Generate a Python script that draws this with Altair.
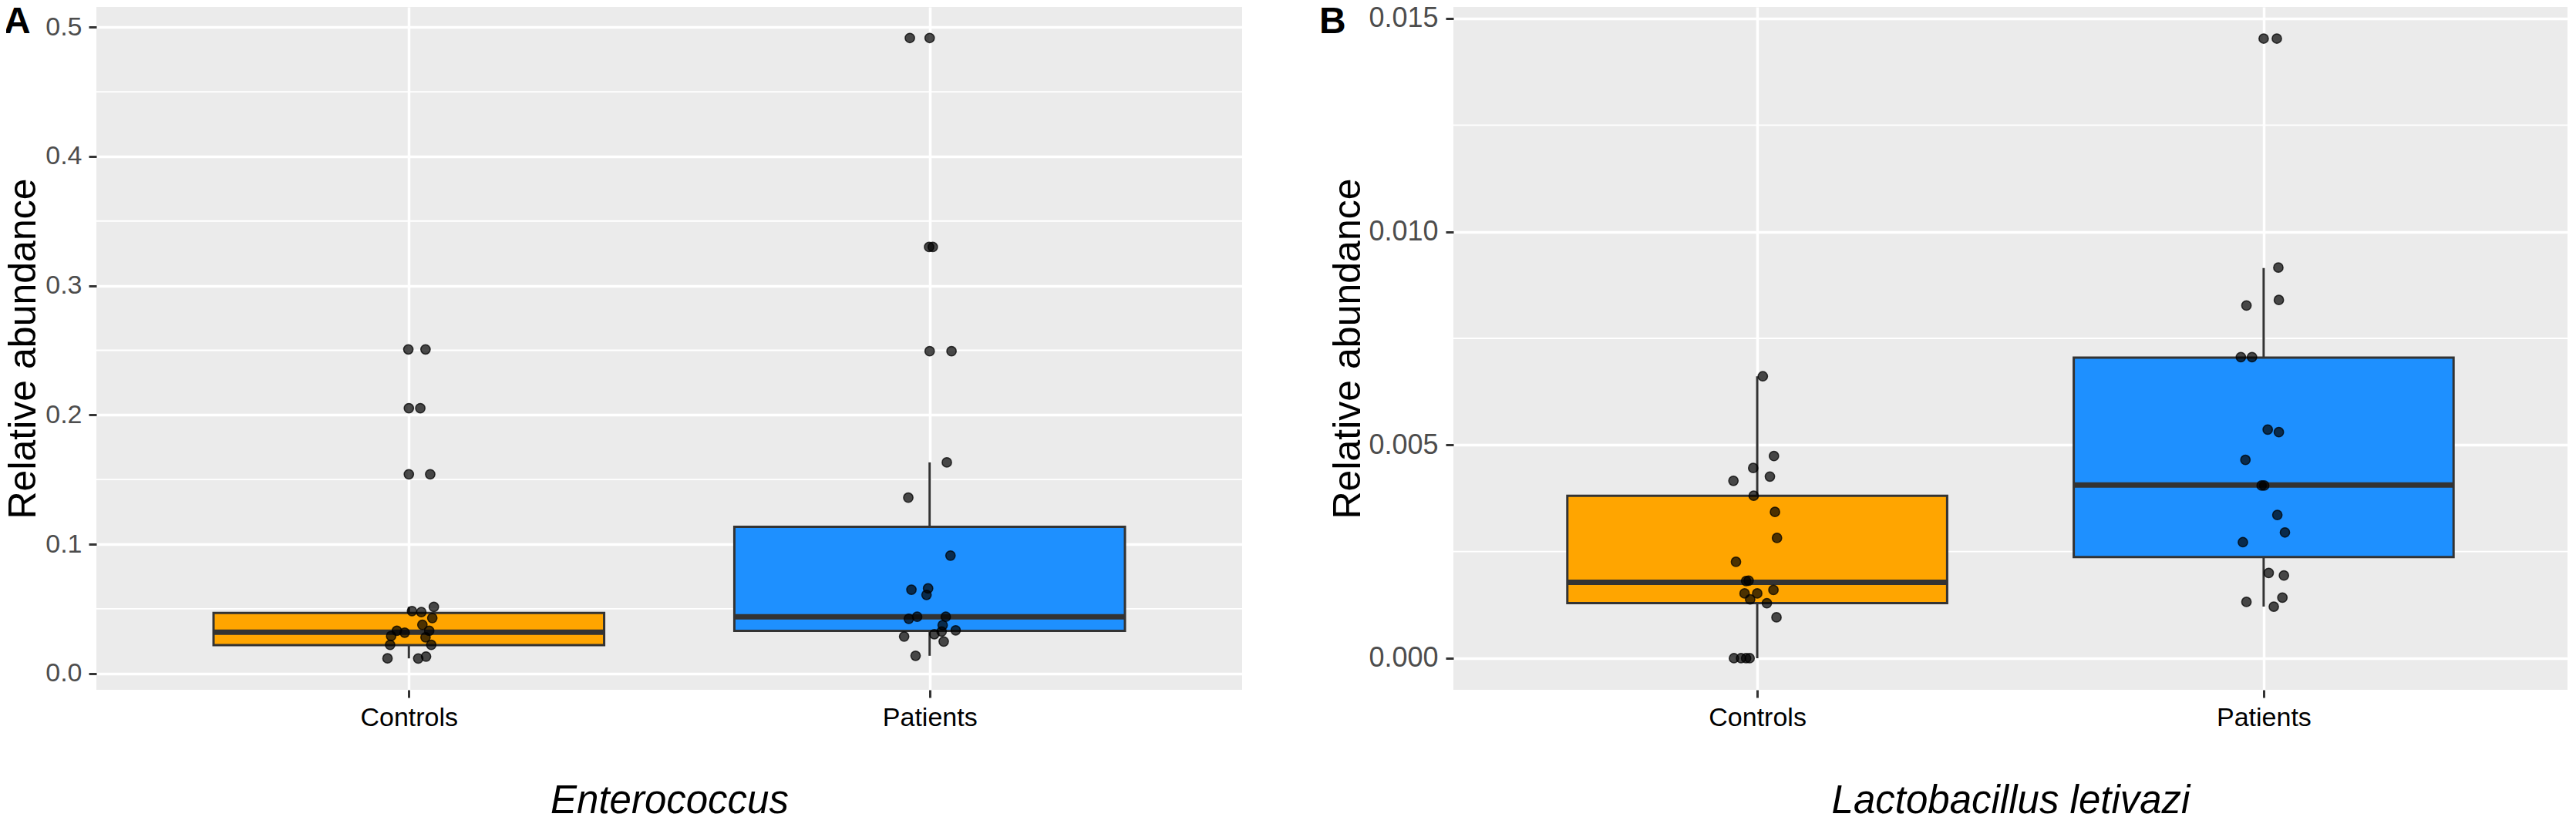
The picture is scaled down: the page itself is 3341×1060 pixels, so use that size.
import altair as alt
import pandas as pd

groups = ["Controls", "Patients"]
box_colors = ["#FFA500", "#1E90FF"]
y_title = "Relative abundance"

# ---------------- Panel A : Enterococcus ----------------
a_title = "Enterococcus"
a_ctrl_values = [0.2507, 0.2507, 0.2052, 0.2052, 0.1541, 0.1541, 0.0483, 0.0475,
                 0.0515, 0.0429, 0.0376, 0.0330, 0.0280, 0.0221, 0.0330, 0.0316,
                 0.0290, 0.0221, 0.0117, 0.0116, 0.0131]
a_ctrl_jitter = [-0.001, 0.032, 0.000, 0.022, 0.000, 0.041, 0.006, 0.024,
                 0.048, 0.045, 0.026, 0.039, 0.032, 0.043, -0.023, -0.008,
                 -0.034, -0.036, -0.041, 0.018, 0.033]
a_pat_values = [0.4916, 0.4916, 0.3299, 0.3299, 0.2493, 0.2493, 0.1633, 0.1360,
                0.0912, 0.0648, 0.0658, 0.0608, 0.0423, 0.0439, 0.0439, 0.0374,
                0.0324, 0.0304, 0.0334, 0.0286, 0.0247, 0.0137]
a_pat_jitter = [-0.038, 0.000, -0.001, 0.006, 0.000, 0.042, 0.033, -0.041,
                0.040, -0.035, -0.003, -0.006, -0.040, -0.024, 0.031, 0.025,
                0.023, 0.009, 0.050, -0.049, 0.027, -0.027]
a_box_lo = [0.0117, 0.0137]
a_box_q1 = [0.0220, 0.0330]
a_box_med = [0.0320, 0.0439]
a_box_q3 = [0.0469, 0.1135]
a_box_hi = [0.0515, 0.1633]
a_ticks = [0.0, 0.1, 0.2, 0.3, 0.4, 0.5]
a_minor = [0.05, 0.15, 0.25, 0.35, 0.45]
a_domain = [-0.01264, 0.5156]

# ---------------- Panel B : Lactobacillus letivazi ----------------
b_title = "Lactobacillus letivazi"
b_ctrl_values = [0.00661, 0.00474, 0.00446, 0.00426, 0.00416, 0.00381, 0.00343,
                 0.00282, 0.00226, 0.00181, 0.00182, 0.00160, 0.00152, 0.00152,
                 0.00138, 0.00129, 0.00096, 0.0, 0.0, 0.0, 0.0]
b_ctrl_jitter = [0.011, 0.033, -0.008, 0.025, -0.047, -0.007, 0.035,
                 0.039, -0.042, -0.022, -0.017, 0.032, -0.025, 0.000,
                 -0.014, 0.019, 0.038, -0.046, -0.032, -0.022, -0.015]
b_pat_values = [0.01453, 0.01453, 0.00916, 0.00827, 0.00840, 0.00706, 0.00706,
                0.00536, 0.00530, 0.00465, 0.00405, 0.00405, 0.00336, 0.00295,
                0.00272, 0.00200, 0.00194, 0.00142, 0.00132, 0.00121]
b_pat_jitter = [0.000, 0.026, 0.029, -0.034, 0.030, -0.045, -0.023,
                0.008, 0.030, -0.036, -0.004, 0.001, 0.027, 0.042,
                -0.041, 0.010, 0.040, 0.037, -0.034, 0.020]
b_box_lo = [0.0, 0.00121]
b_box_q1 = [0.00129, 0.00237]
b_box_med = [0.00178, 0.00406]
b_box_q3 = [0.00381, 0.00705]
b_box_hi = [0.00661, 0.00915]
b_ticks = [0.0, 0.005, 0.010, 0.015]
b_minor = [0.0025, 0.0075, 0.0125]
b_domain = [-0.000741, 0.015271]

FONT = "Liberation Sans"
DARK = "#333333"


def panel(letter, xtitle, cv, cj, pv, pj, lo, q1, med, q3, hi, ticks, minor,
          fmt, ydom, width, yext, ytpad, ylpad, ylfs, letter_x):
    pts = pd.DataFrame({
        "group": [groups[0]] * len(cv) + [groups[1]] * len(pv),
        "value": cv + pv,
        "jit": cj + pj,
    })
    pts["pos"] = pts["group"].map({groups[0]: 1, groups[1]: 2})
    box = pd.DataFrame({"group": groups, "pos": [1, 2], "lo": lo, "q1": q1,
                        "med": med, "q3": q3, "hi": hi})
    minor_df = pd.DataFrame({"v": minor})
    letter_df = pd.DataFrame({"t": [letter]})

    xscale = alt.Scale(domain=[0.4, 2.6], nice=False, zero=False)
    label_expr = "['" + "','".join(groups) + "'][datum.value - 1]"
    xaxis = alt.Axis(values=[1, 2], labelExpr=label_expr, title=xtitle,
                     grid=True, gridColor="white", gridWidth=3.5,
                     domain=False, ticks=True, tickSize=10, tickWidth=3,
                     tickColor=DARK, labelFontSize=34, labelColor="black",
                     labelPadding=9, labelFont=FONT,
                     titleFont=FONT, titleFontSize=51, titleFontStyle="italic",
                     titleFontWeight="normal", titleColor="black",
                     titlePadding=66, minExtent=53, maxExtent=53)
    yscale = alt.Scale(domain=ydom, nice=False, zero=False)
    yaxis = alt.Axis(values=ticks, format=fmt, title=y_title,
                     grid=True, gridColor="white", gridWidth=3.5,
                     domain=False, ticks=True, tickSize=10, tickWidth=3,
                     tickColor=DARK, labelFontSize=ylfs, labelColor="#4D4D4D",
                     labelPadding=ylpad, labelFont=FONT,
                     titleFont=FONT, titleFontSize=50, titleFontWeight="normal",
                     titleColor="black", titlePadding=ytpad,
                     minExtent=yext, maxExtent=yext)

    def X(f):
        return alt.X(f + ":Q", scale=xscale, axis=xaxis, title=xtitle)

    def Y(f):
        return alt.Y(f + ":Q", scale=yscale, axis=yaxis, title=y_title)

    fill = alt.Fill("group:N", scale=alt.Scale(domain=groups, range=box_colors),
                    legend=None)

    minor_layer = alt.Chart(minor_df).mark_rule(color="white", strokeWidth=1.8).encode(
        y=Y("v"))
    whisk = alt.Chart(box).mark_rule(color=DARK, strokeWidth=3).encode(
        x=X("pos"), y=Y("lo"), y2="hi")
    rect = alt.Chart(box).transform_calculate(
        x1="datum.pos - 0.375", x2="datum.pos + 0.375"
    ).mark_rect(stroke=DARK, strokeWidth=3).encode(
        x=X("x1"), x2="x2", y=Y("q1"), y2="q3", fill=fill)
    median = alt.Chart(box).transform_calculate(
        x1="datum.pos - 0.375", x2="datum.pos + 0.375"
    ).mark_rule(color=DARK, strokeWidth=7).encode(
        x=X("x1"), x2="x2", y=Y("med"))
    points = alt.Chart(pts).transform_calculate(
        xj="datum.pos + datum.jit"
    ).mark_point(shape="circle", filled=True, size=150, fill="black",
                 fillOpacity=0.7, stroke="black", strokeWidth=1.5,
                 strokeOpacity=0.75).encode(x=X("xj"), y=Y("value"))
    lab = alt.Chart(letter_df).mark_text(
        fontSize=48, fontWeight="bold", align="left", baseline="alphabetic",
        color="black", font=FONT
    ).encode(text="t:N", x=alt.value(letter_x), y=alt.value(34))

    return alt.layer(minor_layer, whisk, rect, median, points, lab).properties(
        width=width, height=886)


pa = panel("A", a_title, a_ctrl_values, a_ctrl_jitter, a_pat_values, a_pat_jitter,
           a_box_lo, a_box_q1, a_box_med, a_box_q3, a_box_hi, a_ticks, a_minor,
           ".1f", a_domain, 1486, 65, 4.5, 9, 34, -120)
pb = panel("B", b_title, b_ctrl_values, b_ctrl_jitter, b_pat_values, b_pat_jitter,
           b_box_lo, b_box_q1, b_box_med, b_box_q3, b_box_hi, b_ticks, b_minor,
           ".3f", b_domain, 1445, 104, 7.5, 10, 36, -174)

chart = alt.hconcat(pa, pb, spacing=99).properties(
    padding={"left": -3, "top": -3, "right": 0, "bottom": 0}
).configure(font=FONT).configure_view(fill="#EBEBEB", strokeWidth=0)

chart.save("out.html", embed_options={"renderer": "svg", "actions": False})
